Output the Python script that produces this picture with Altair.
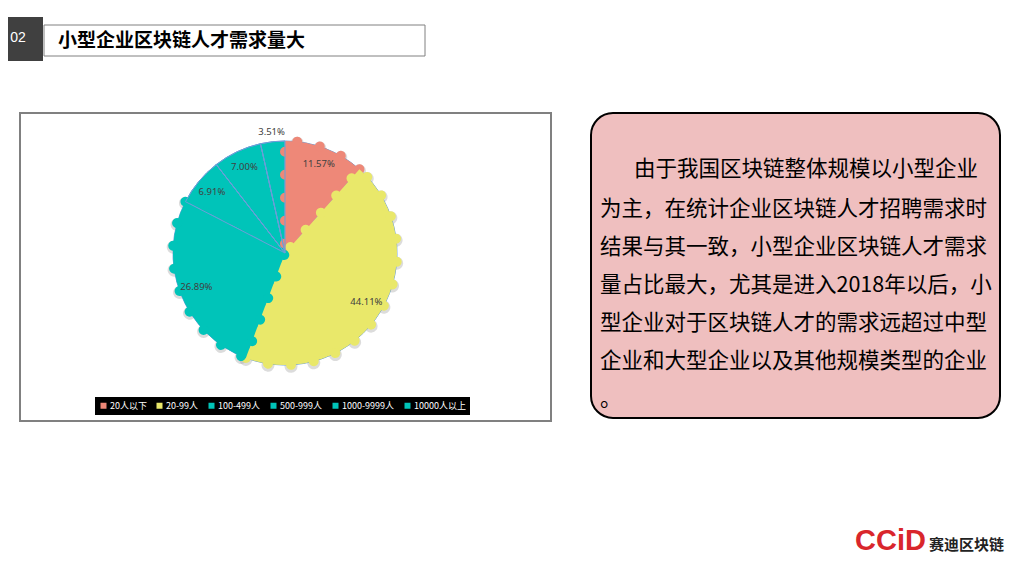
import altair as alt
import pandas as pd

# ---------------- data ----------------
SECTION = "02"
TITLE = "小型企业区块链人才需求量大"
CATEGORIES = ["20人以下", "20-99人", "100-499人", "500-999人", "1000-9999人", "10000人以上"]
SHARES = [11.57, 44.11, 26.89, 6.91, 7.00, 3.51]
COLORS = ["#EE8878", "#E9E86A", "#00C4B9", "#00C4B9", "#00C4B9", "#00C4B9"]
PARAGRAPH_FIRST = "由于我国区块链整体规模以小型企业"
PARAGRAPH_REST = [
    "为主，在统计企业区块链人才招聘需求时",
    "结果与其一致，小型企业区块链人才需求",
    "量占比最大，尤其是进入2018年以后，小",
    "型企业对于区块链人才的需求远超过中型",
    "企业和大型企业以及其他规模类型的企业",
    "。",
]
LOGO_MARK = "CCiD"
LOGO_TEXT = "赛迪区块链"

# ---------------- layout constants (pixels, chart coords) ----------------
W, H = 1002, 549
CX, CY, R = 277, 245, 112
CJK = "Noto Sans CJK SC"
DASH = [0.001, 23]

one = pd.DataFrame({"k": [0]})
pie_df = pd.DataFrame({
    "cat": CATEGORIES,
    "val": SHARES,
    "idx": list(range(len(SHARES))),
    "label": [f"{v:.2f}%" for v in SHARES],
})

def box(x, x2, y, y2, **kw):
    return alt.Chart(one).mark_rect(**kw).encode(
        x=alt.value(x), x2=alt.value(x2), y=alt.value(y), y2=alt.value(y2)
    )

def label(text, x, y, **kw):
    return alt.Chart(pd.DataFrame({"t": [text]})).mark_text(**kw).encode(
        x=alt.value(x), y=alt.value(y), text="t:N"
    )

# header
header_sq = box(0, 35, 9, 53, fill="#404040")
header_num = label(SECTION, 10, 30, color="white", fontSize=14, font="Liberation Sans",
                   align="center", baseline="middle")
title_box = box(36, 417, 17, 48, fill="white", stroke="#808080", strokeWidth=1)
title_txt = label(TITLE, 50, 33, color="black", fontSize=19, font=CJK, fontWeight="bold",
                  align="left", baseline="middle")

# chart panel
panel = box(12, 543, 105, 413, fill="white", stroke="#808080", strokeWidth=2)

color_scale = alt.Scale(domain=CATEGORIES, range=COLORS)
base = alt.Chart(pie_df).encode(
    theta=alt.Theta("val:Q", stack=True),
    order=alt.Order("idx:Q"),
    x=alt.value(CX),
    y=alt.value(CY),
)

smooth = base.mark_arc(outerRadius=R, stroke="#6A9FD8", strokeWidth=1).encode(
    color=alt.Color(
        "cat:N", scale=color_scale,
        legend=alt.Legend(
            orient="none", legendX=87, legendY=389, direction="horizontal", title=None,
            fillColor="black", padding=4, labelColor="white", labelFontSize=9,
            labelFont=CJK, symbolType="square", symbolSize=36, symbolStrokeWidth=0,
            columnPadding=8, labelOffset=2,
        ),
    )
)

halo = base.mark_arc(outerRadius=R, fillOpacity=0, stroke="#9a9a9a", strokeWidth=13,
                     strokeDash=DASH, strokeCap="round").encode(
    y=alt.value(CY + 1.5),
    strokeOpacity=alt.condition("datum.idx <= 2", alt.value(0.35), alt.value(0)),
)

bumps = base.mark_arc(outerRadius=R, strokeWidth=10, strokeDash=DASH,
                      strokeCap="round").encode(
    color=alt.Color("cat:N", scale=color_scale, legend=None),
    stroke=alt.Stroke("cat:N", scale=color_scale, legend=None),
    opacity=alt.condition("datum.idx <= 2", alt.value(1), alt.value(0)),
)

outlines = base.mark_arc(outerRadius=R, fillOpacity=0, stroke="#6A9FD8", strokeWidth=1).encode(
    strokeOpacity=alt.condition("datum.idx >= 3", alt.value(1), alt.value(0)),
)

pct_in = base.mark_text(radius=95, fontSize=9.5, color="#404040", font="Noto Sans").encode(
    text="label:N",
    opacity=alt.condition("datum.val >= 5", alt.value(1), alt.value(0)),
)
pct_out = base.mark_text(radius=122, fontSize=9.5, color="#404040", font="Noto Sans").encode(
    text="label:N",
    opacity=alt.condition("datum.val < 5", alt.value(1), alt.value(0)),
)

# text box
tbox = box(583, 992, 105, 410, fill="#EFBFBF", stroke="black", strokeWidth=2, cornerRadius=22)
para1 = label(PARAGRAPH_FIRST, 626, 162, color="black", fontSize=21.5, font=CJK,
              align="left", baseline="middle")
para_rest = label("\n".join(PARAGRAPH_REST), 592, 202, color="black", fontSize=21.5, font=CJK,
                  align="left", baseline="middle", lineBreak="\n", lineHeight=38)

# logo
logo_mark = label(LOGO_MARK, 847, 542, color="#D9262C", fontSize=29, font="Liberation Sans",
                  fontWeight="bold", align="left", baseline="alphabetic")
logo_txt = label(LOGO_TEXT, 921, 537, color="#222222", fontSize=15, font=CJK,
                 fontWeight="bold", align="left", baseline="middle")

chart = alt.layer(
    header_sq, header_num, title_box, title_txt,
    panel, halo, smooth, bumps, outlines, pct_in, pct_out,
    tbox, para1, para_rest, logo_mark, logo_txt,
).properties(
    width=W, height=H, background="white", padding=0,
    autosize=alt.AutoSizeParams(type="none"),
).configure_view(stroke=None)

chart.save("out.html", embed_options={"renderer": "svg", "actions": False})
